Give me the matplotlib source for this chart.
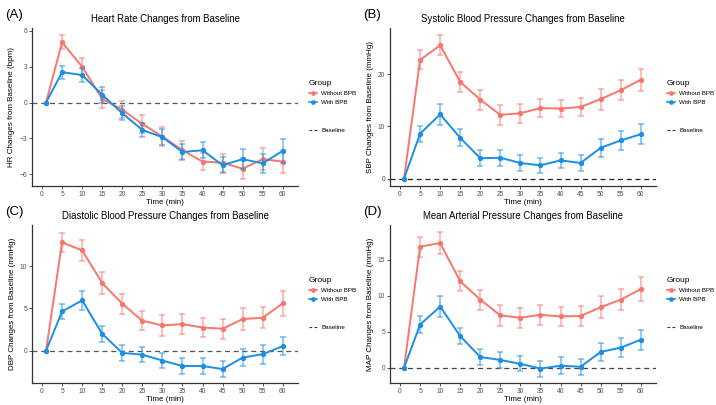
import numpy as np
import matplotlib
matplotlib.use("Agg")
import matplotlib.pyplot as plt
from matplotlib.lines import Line2D

plt.rcParams['font.family'] = ['Liberation Sans', 'DejaVu Sans']

# time points (min); first point is baseline
time = [1, 5, 10, 15, 20, 25, 30, 35, 40, 45, 50, 55, 60]
xticks = list(range(0, 61, 5))

# HR
hr_without = [0, 5.05, 3.0, 0.3, -0.6, -1.8, -2.85, -4.0, -4.95, -5.05, -5.55, -4.75, -4.95]
hr_without_err = [0, 0.6, 0.7, 0.75, 0.7, 0.75, 0.8, 0.75, 0.7, 0.75, 0.9, 0.9, 1.0]
hr_with = [0, 2.55, 2.3, 0.65, -0.9, -2.3, -2.9, -4.15, -4.0, -5.25, -4.75, -5.1, -4.05]
hr_with_err = [0, 0.55, 0.6, 0.65, 0.6, 0.6, 0.7, 0.7, 0.65, 0.65, 0.85, 0.8, 1.0]

# SBP
sbp_without = [0, 22.7, 25.5, 18.5, 15.1, 12.2, 12.5, 13.5, 13.4, 13.7, 15.2, 16.9, 18.9]
sbp_without_err = [0, 1.8, 1.9, 1.9, 1.9, 1.9, 1.85, 1.8, 1.7, 1.8, 2.0, 1.9, 2.1]
sbp_with = [0, 8.6, 12.3, 7.8, 3.9, 4.0, 3.0, 2.55, 3.5, 3.0, 5.9, 7.3, 8.5]
sbp_with_err = [0, 1.5, 2.0, 1.6, 1.5, 1.55, 1.5, 1.45, 1.5, 1.5, 1.7, 1.8, 1.9]

# DBP
dbp_without = [0, 12.8, 11.85, 8.0, 5.55, 3.55, 3.0, 3.15, 2.75, 2.6, 3.75, 3.9, 5.6]
dbp_without_err = [0, 1.1, 1.2, 1.25, 1.15, 1.15, 1.2, 1.15, 1.1, 1.15, 1.3, 1.25, 1.45]
dbp_with = [0, 4.65, 5.95, 2.0, -0.25, -0.45, -1.15, -1.8, -1.8, -2.15, -0.8, -0.4, 0.55]
dbp_with_err = [0, 0.85, 1.1, 0.95, 0.9, 0.9, 0.9, 0.9, 0.95, 1.0, 1.05, 1.1, 1.1]

# MAP
map_without = [0, 16.8, 17.3, 12.0, 9.45, 7.27, 6.95, 7.35, 7.13, 7.18, 8.4, 9.45, 10.9]
map_without_err = [0, 1.4, 1.5, 1.4, 1.4, 1.45, 1.4, 1.35, 1.3, 1.35, 1.5, 1.45, 1.7]
map_with = [0, 6.0, 8.5, 4.4, 1.5, 1.1, 0.55, -0.1, 0.3, 0.15, 2.2, 2.8, 3.9]
map_with_err = [0, 1.15, 1.45, 1.15, 1.05, 1.1, 1.05, 1.1, 1.15, 1.1, 1.3, 1.35, 1.4]

red = "#F8766D"
blue = "#1A8FE3"

panels = [
    ("(A)", "Heart Rate Changes from Baseline", "HR Changes from Baseline (bpm)",
     hr_without, hr_without_err, hr_with, hr_with_err, [-6, -3, 0, 3, 6], (-7.0, 6.25), "#555555"),
    ("(B)", "Systolic Blood Pressure Changes from Baseline", "SBP Changes from Baseline (mmHg)",
     sbp_without, sbp_without_err, sbp_with, sbp_with_err, [0, 10, 20], (-1.4, 28.8), "#222222"),
    ("(C)", "Diastolic Blood Pressure Changes from Baseline", "DBP Changes from Baseline (mmHg)",
     dbp_without, dbp_without_err, dbp_with, dbp_with_err, [0, 5, 10], (-3.8, 14.85), "#555555"),
    ("(D)", "Mean Arterial Pressure Changes from Baseline", "MAP Changes from Baseline (mmHg)",
     map_without, map_without_err, map_with, map_with_err, [0, 5, 10, 15], (-2.1, 19.8), "#444444"),
]

fig = plt.figure(figsize=(7.16, 4.05), dpi=100)
W, H = 716, 405
boxes = [(32, 28, 298, 186), (390, 28, 656, 186), (32, 225, 298, 383), (390, 225, 656, 383)]

for (lab, title, ylab, wo, woe, wi, wie, yt, ylim, bcol), (l, t, r, b) in zip(panels, boxes):
    ax = fig.add_axes([l / W, 1 - b / H, (r - l) / W, (b - t) / H])
    ax.axhline(0, color=bcol, ls=(0, (4, 3)), lw=0.9, zorder=1)
    ax.errorbar(time[1:], wo[1:], yerr=woe[1:], fmt="none", ecolor=red, alpha=0.6,
                elinewidth=1.1, capsize=2.2, capthick=1.1, zorder=2)
    ax.plot(time, wo, color=red, lw=1.4, marker="o", ms=2.8, zorder=3)
    ax.errorbar(time[1:], wi[1:], yerr=wie[1:], fmt="none", ecolor=blue, alpha=0.6,
                elinewidth=1.1, capsize=2.2, capthick=1.1, zorder=4)
    ax.plot(time, wi, color=blue, lw=1.4, marker="o", ms=2.8, zorder=5)
    ax.set_xlim(-2.5, 63.8)
    ax.set_ylim(*ylim)
    ax.set_xticks(xticks)
    ax.set_yticks(yt)
    for s in ["top", "right"]:
        ax.spines[s].set_visible(False)
    for s in ["left", "bottom"]:
        ax.spines[s].set_color("#333333")
        ax.spines[s].set_linewidth(0.9)
    ax.tick_params(labelsize=4.8, colors="#333333", length=2.2, width=0.6, pad=1.2, labelcolor="#4D4D4D")
    ax.set_title(title, fontsize=6.9, pad=4)
    ax.set_ylabel(ylab, fontsize=5.8, labelpad=3)
    ax.set_xlabel("Time (min)", fontsize=5.8, labelpad=0.6)
    fig.text((l - 27) / W, 1 - (t - 13) / H, lab, fontsize=9.5, va="center", ha="left")

    h1 = [Line2D([], [], color=red, lw=1.2, marker="o", ms=2.4),
          Line2D([], [], color=blue, lw=1.2, marker="o", ms=2.4)]
    leg1 = ax.legend(h1, ["Without BPB", "With BPB"], title="Group", loc="upper left",
                     bbox_to_anchor=(1.04, 0.67), frameon=False, fontsize=4.5,
                     title_fontsize=6.0, handlelength=1.4, handletextpad=0.6,
                     labelspacing=0.55, borderaxespad=0, borderpad=0)
    leg1._legend_box.align = "left"
    ax.add_artist(leg1)
    h2 = [Line2D([], [], color="#333333", lw=0.8, ls=(0, (2.5, 2)))]
    ax.legend(h2, ["Baseline"], loc="center left", bbox_to_anchor=(1.04, 0.35),
              frameon=False, fontsize=4.5, handlelength=1.4, handletextpad=0.6,
              borderaxespad=0, borderpad=0)

fig.savefig("out.png", dpi=100)
